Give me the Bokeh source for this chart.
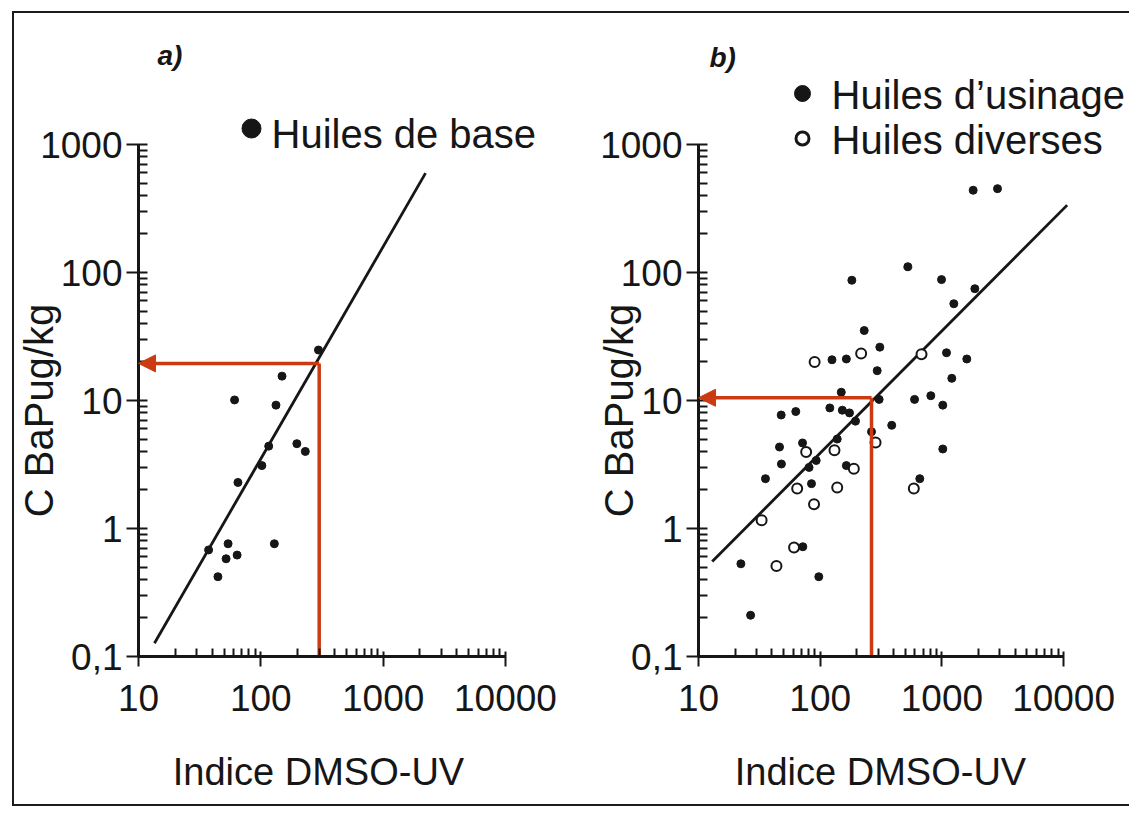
import math
from bokeh.plotting import figure
from bokeh.models import Range1d, FixedTicker, Label, Arrow, NormalHead
from bokeh.layouts import row
from bokeh.embed import file_html
from bokeh.resources import INLINE

# ---------------- data ----------------
# panel a) : Huiles de base
base_x = [296, 149, 61, 133, 116, 197, 231, 102, 65, 54, 129, 37.4, 52, 64, 44.6]
base_y = [24.8, 15.5, 10.1, 9.2, 4.4, 4.6, 4.0, 3.1, 2.29, 0.76, 0.76, 0.68, 0.58, 0.62, 0.42]
fit_a_x = [13.5, 2220]
fit_a_y = [0.127, 597]
read_a_x = 300
read_a_y = 19.5

# panel b) : Huiles d'usinage (filled) / Huiles diverses (open)
usinage_x = [1807, 2864, 525, 182, 993, 1865, 1253, 230, 309, 125,
             164, 1091, 1602, 294, 1206, 149, 305, 596, 811, 1017,
             120, 152, 174, 195, 63, 47.8, 387, 264, 138, 71.6,
             46.3, 1017, 92.7, 48, 81, 164, 35.5, 658, 84.8, 72,
             22.3, 97.4, 26.8]
usinage_y = [439, 452, 111, 87, 88, 74.7, 57, 35.2, 26.1, 20.8,
             21.1, 23.6, 21.1, 17.1, 14.9, 11.6, 10.2, 10.2, 10.9, 9.2,
             8.75, 8.4, 8.0, 6.9, 8.2, 7.7, 6.4, 5.7, 5.0, 4.66,
             4.33, 4.18, 3.4, 3.19, 3.0, 3.1, 2.45, 2.45, 2.24, 0.72,
             0.53, 0.42, 0.21]
diverses_x = [90, 217, 680, 285, 76.7, 131, 189, 64.7, 138, 588, 89, 33, 61, 43.7]
diverses_y = [20, 23.3, 23.0, 4.7, 3.96, 4.08, 2.93, 2.05, 2.09, 2.05, 1.55, 1.16, 0.71, 0.51]
fit_b_x = [12.96, 10700]
fit_b_y = [0.552, 336]
read_b_x = 264
read_b_y = 10.5

x_ticks = [10, 100, 1000, 10000]
x_tick_labels = ["10", "100", "1000", "10000"]
y_ticks = [0.1, 1, 10, 100, 1000]
y_tick_labels = ["0,1", "1", "10", "100", "1000"]

panel_a_title = "a)"
panel_b_title = "b)"
legend_a = "Huiles de base"
legend_b1 = "Huiles d\u2019usinage"
legend_b2 = "Huiles diverses"
x_label = "Indice DMSO-UV"
y_label = "C BaPug/kg"

# ---------------- styling / geometry (page pixels) ----------------
FONT = "Liberation Sans"
INK = "#161616"
RED = "#CC3A12"
FIG_TOP = 13
FIG_BOTTOM = 804
Y0_PX = 656           # page y of value 0.1
Y_DEC = 128.0         # px per decade (y)

x_minor = [k * 10 ** d for d in range(1, 4) for k in range(2, 10)]
y_minor = [k * 10 ** d for d in range(-1, 3) for k in range(2, 10)]


def make_panel(fig_left, fig_right, axis_px, x_dec):
    def dx(px):
        return 10 ** (1 + (px - axis_px) / x_dec)

    def dy(py):
        return 10 ** (-1 + (Y0_PX - py) / Y_DEC)

    p = figure(width=fig_right - fig_left, height=FIG_BOTTOM - FIG_TOP,
               x_axis_type="log", y_axis_type="log",
               x_range=Range1d(dx(fig_left), dx(fig_right)),
               y_range=Range1d(dy(FIG_BOTTOM), dy(FIG_TOP)),
               min_border=0, toolbar_location=None, output_backend="svg", title=None)
    p.grid.visible = False
    p.outline_line_color = None
    p.background_fill_color = "white"
    p.border_fill_color = "white"

    xa = p.xaxis[0]
    xa.ticker = FixedTicker(ticks=x_ticks, minor_ticks=x_minor)
    xa.major_label_overrides = {t: s for t, s in zip(x_ticks, x_tick_labels)}
    xa.bounds = (10, 10000)
    xa.fixed_location = 0.1
    ya = p.yaxis[0]
    ya.ticker = FixedTicker(ticks=y_ticks, minor_ticks=y_minor)
    ya.major_label_overrides = {t: s for t, s in zip(y_ticks, y_tick_labels)}
    ya.bounds = (0.1, 1000)
    ya.fixed_location = 10
    for ax in (xa, ya):
        ax.axis_line_width = 3
        ax.axis_line_color = INK
        ax.major_tick_line_width = 2
        ax.minor_tick_line_width = 2
        ax.major_tick_line_color = INK
        ax.minor_tick_line_color = INK
        ax.major_label_text_font = FONT
        ax.major_label_text_font_size = "37px"
        ax.major_label_text_color = INK
    xa.major_tick_out = 10
    xa.major_tick_in = 5
    xa.minor_tick_in = 8
    xa.minor_tick_out = 0
    xa.major_label_standoff = 18
    ya.major_tick_out = 12
    ya.major_tick_in = 9
    ya.minor_tick_in = 9
    ya.minor_tick_out = 0
    ya.major_label_standoff = 4
    return p, dx, dy


def text(p, x, y, s, size, align="left", baseline="alphabetic", angle=0, style="normal"):
    p.add_layout(Label(x=x, y=y, text=s, text_font=FONT, text_font_size=size,
                       text_color=INK, text_align=align, text_baseline=baseline,
                       angle=angle, text_font_style=style))


# ---------------- panel a ----------------
pa, ax_, ay_ = make_panel(14, 568, 138, 122.33)
pa.line(fit_a_x, fit_a_y, line_color=INK, line_width=2.8)
pa.scatter(base_x, base_y, size=8, color=INK)
pa.line([read_a_x, read_a_x], [0.1, read_a_y], line_color=RED, line_width=3.5)
pa.add_layout(Arrow(end=NormalHead(size=17, fill_color=RED, line_color=RED),
                    x_start=read_a_x, y_start=read_a_y, x_end=10, y_end=read_a_y,
                    line_color=RED, line_width=3.5))
pa.scatter([ax_(251)], [ay_(128)], size=19, color=INK)
text(pa, ax_(271), ay_(133), legend_a, "40px")
text(pa, ax_(157), ay_(55), panel_a_title, "28px", style="bold italic")
text(pa, ax_(318), ay_(771), x_label, "38px", align="center")
text(pa, ax_(38), ay_(410), y_label, "40px", align="center", baseline="middle", angle=math.pi / 2)

# ---------------- panel b ----------------
pb, bx_, by_ = make_panel(568, 1129, 698, 121.7)
pb.line(fit_b_x, fit_b_y, line_color=INK, line_width=2.8)
pb.scatter(usinage_x, usinage_y, size=8, color=INK)
pb.scatter(diverses_x, diverses_y, size=10, fill_color="white", line_color=INK, line_width=2)
pb.line([read_b_x, read_b_x], [0.1, read_b_y], line_color=RED, line_width=3.5)
pb.add_layout(Arrow(end=NormalHead(size=17, fill_color=RED, line_color=RED),
                    x_start=read_b_x, y_start=read_b_y, x_end=10, y_end=read_b_y,
                    line_color=RED, line_width=3.5))
pb.scatter([bx_(802)], [by_(93)], size=16, color=INK)
pb.scatter([bx_(802)], [by_(138)], size=13, fill_color="white", line_color=INK, line_width=3)
text(pb, bx_(831), by_(94), legend_b1, "40px")
text(pb, bx_(831), by_(139), legend_b2, "40px")
text(pb, bx_(709), by_(57), panel_b_title, "28px", style="bold italic")
text(pb, bx_(880), by_(771), x_label, "38px", align="center")
text(pb, bx_(618), by_(410), y_label, "40px", align="center", baseline="middle", angle=math.pi / 2)

border = "2px solid #1c1c1c"
layout = row(pa, pb, margin=(11, 0, 0, 12),
             styles={"border-top": border, "border-left": border, "border-bottom": border})

open("out.html", "w").write(file_html(layout, INLINE))
